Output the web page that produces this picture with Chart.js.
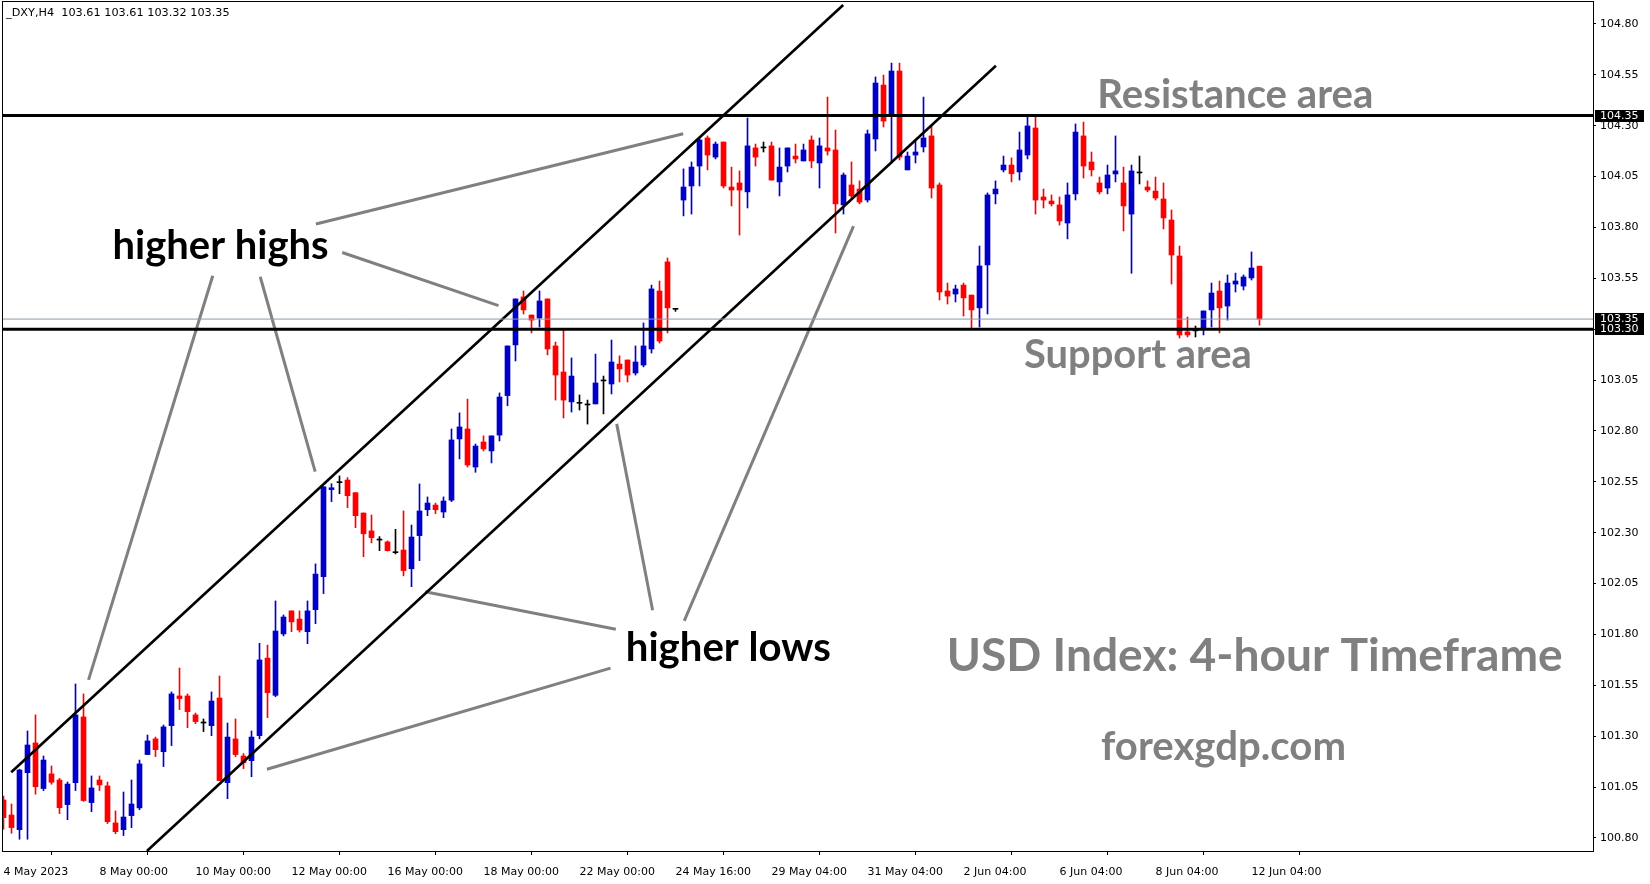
<!DOCTYPE html>
<html><head><meta charset="utf-8">
<script src="https://cdn.jsdelivr.net/npm/chart.js@4.4.0/dist/chart.umd.min.js"></script>
<style>html,body{margin:0;padding:0;background:#fff;overflow:hidden}canvas{display:block}</style>
</head><body>
<canvas id="c" width="1650" height="884"></canvas>
<script>
// ---- DATA (DXY H4 candles) ----
const opens = [100.987,100.913,100.841,101.121,101.267,101.043,101.115,101.085,100.964,101.072,
101.395,100.974,101.085,101.056,100.874,100.841,100.910,100.948,101.210,101.287,
101.224,101.352,101.498,101.498,101.405,101.365,101.352,101.488,101.072,101.287,
101.203,101.180,101.303,101.684,101.501,101.803,101.916,101.876,101.814,101.922,
102.084,102.512,102.546,102.559,102.497,102.397,102.309,102.264,102.255,102.202,
102.215,102.123,102.286,102.413,102.436,102.402,102.460,102.761,102.810,102.623,
102.746,102.702,102.780,102.974,103.223,103.459,103.370,103.355,103.449,103.218,
103.090,102.943,102.936,102.928,102.933,103.046,103.031,103.129,103.149,103.085,
103.124,103.203,103.488,103.631,103.398,103.935,104.004,104.102,104.240,104.146,
104.220,103.999,104.019,103.975,104.191,104.191,104.201,104.024,104.102,104.151,
104.127,104.230,104.117,104.191,104.181,103.911,104.009,103.989,103.935,104.235,
104.500,104.353,104.569,104.083,104.156,104.196,104.250,104.009,103.488,103.473,
103.517,103.468,103.405,103.616,103.965,104.083,104.107,104.073,104.156,104.289,
103.950,103.930,103.911,103.822,103.965,104.250,104.122,104.019,103.994,104.063,
104.019,103.866,104.068,103.999,103.979,103.940,103.837,103.660,103.287,103.292,
103.306,103.395,103.488,103.414,103.522,103.512,103.552,103.610];
const highs = [101.006,100.967,101.138,101.326,101.405,101.203,101.154,101.093,101.075,101.557,
101.508,101.105,101.105,101.075,100.933,101.026,101.085,101.183,101.306,101.296,
101.355,101.518,101.635,101.508,101.414,101.385,101.518,101.596,101.365,101.385,
101.215,101.326,101.757,101.748,101.965,101.896,101.916,101.916,101.965,102.147,
102.526,102.541,102.579,102.571,102.497,102.397,102.387,102.281,102.260,102.317,
102.407,102.338,102.540,102.476,102.446,102.476,102.810,102.889,102.957,102.736,
102.776,102.776,102.987,103.218,103.449,103.488,103.370,103.488,103.449,103.237,
103.296,103.159,102.977,102.952,103.178,103.070,103.247,103.169,103.149,103.218,
103.331,103.517,103.537,103.650,103.398,104.088,104.122,104.240,104.250,104.220,
104.220,104.097,104.078,104.338,104.210,104.220,104.220,104.191,104.191,104.210,
104.210,104.250,104.240,104.441,104.279,104.068,104.122,104.029,104.279,104.540,
104.549,104.608,104.608,104.171,104.230,104.441,104.299,104.019,103.527,103.517,
103.527,103.468,103.709,103.970,104.029,104.151,104.142,104.269,104.348,104.348,
103.989,103.960,103.950,104.019,104.309,104.318,104.171,104.048,104.107,104.250,
104.097,104.107,104.151,104.029,104.048,104.019,103.886,103.709,103.360,103.316,
103.390,103.527,103.537,103.567,103.576,103.567,103.680,103.610];
const lows = [100.843,100.823,100.794,100.794,101.015,101.033,101.064,100.920,100.890,101.033,
100.980,100.929,101.033,100.871,100.821,100.812,100.851,100.939,101.210,101.200,
101.151,101.254,101.431,101.342,101.362,101.323,101.303,101.082,100.993,101.200,
101.141,101.101,101.287,101.391,101.494,101.793,101.814,101.812,101.755,101.853,
102.001,102.453,102.492,102.423,102.325,102.182,102.250,102.212,102.210,102.196,
102.088,102.035,102.163,102.384,102.394,102.374,102.453,102.663,102.623,102.597,
102.702,102.643,102.751,102.924,103.144,103.375,103.282,103.311,103.174,102.952,
102.864,102.893,102.903,102.834,102.933,102.884,102.982,103.041,103.041,103.075,
103.115,103.183,103.232,103.282,103.388,103.857,103.866,104.004,104.083,104.137,
103.994,103.906,103.763,103.896,104.102,104.171,104.033,103.955,104.073,104.117,
104.127,104.093,103.994,104.156,103.773,103.866,103.945,103.916,103.925,104.176,
104.294,104.117,104.132,104.083,104.117,104.171,103.945,103.444,103.424,103.434,
103.365,103.306,103.311,103.375,103.916,104.073,104.024,104.033,104.137,103.866,
103.896,103.906,103.812,103.744,103.935,104.043,104.053,103.965,103.965,104.024,
103.783,103.575,104.014,103.975,103.935,103.793,103.522,103.257,103.262,103.262,
103.272,103.311,103.282,103.345,103.483,103.493,103.542,103.320];
const closes = [100.900,100.851,101.134,101.257,101.052,101.183,101.074,100.949,101.065,101.405,
100.984,101.046,101.061,100.880,100.831,100.903,100.967,101.164,101.277,101.234,
101.346,101.508,101.485,101.421,101.372,101.365,101.473,101.082,101.296,101.210,
101.170,101.296,101.675,101.514,101.817,101.886,101.862,101.822,101.916,102.097,
102.526,102.521,102.546,102.482,102.384,102.295,102.276,102.264,102.212,102.202,
102.114,102.279,102.407,102.446,102.413,102.456,102.756,102.820,102.633,102.726,
102.712,102.776,102.967,103.218,103.449,103.395,103.345,103.439,103.203,103.075,
102.952,103.070,102.936,102.928,103.036,103.046,103.139,103.105,103.075,103.139,
103.218,103.498,103.242,103.405,103.398,103.999,104.097,104.230,104.156,104.210,
104.004,103.984,103.984,104.201,104.146,104.191,104.033,104.097,104.191,104.137,
104.181,104.127,104.201,104.176,103.916,104.058,103.955,103.925,104.260,104.510,
104.323,104.569,104.146,104.151,104.171,104.240,103.994,103.483,103.463,103.498,
103.454,103.395,103.611,103.960,103.989,104.107,104.064,104.181,104.299,103.935,
103.935,103.916,103.832,103.960,104.269,104.102,104.083,103.975,104.058,104.078,
103.906,104.078,104.068,103.984,103.945,103.847,103.665,103.272,103.272,103.292,
103.390,103.478,103.405,103.527,103.537,103.557,103.601,103.350];

const xTickBars = [0,12,24,36,48,60,72,84,96,108,120,132,144,156];
const xTickLabels = ["4 May 2023","8 May 00:00","10 May 00:00","12 May 00:00","16 May 00:00","18 May 00:00",
  "22 May 00:00","24 May 16:00","29 May 04:00","31 May 04:00","2 Jun 04:00","6 Jun 04:00","8 Jun 04:00","12 Jun 04:00"];
const yTickValues = [100.80,101.05,101.30,101.55,101.80,102.05,102.30,102.55,102.80,103.05,103.30,103.55,103.80,104.05,104.30,104.55,104.80];

const resistanceLevel = 104.35;
const supportLevel = 103.30;
const lastPrice = 103.35;
const headerText = "_DXY,H4  103.61 103.61 103.32 103.35";

// trend channel (bar index, price)
const upperChannel = [[0.96,101.123],[104.96,104.893]];
const lowerChannel = [[17.93,100.736],[124.05,104.595]];
// grey pointer lines (bar index, price)
const pointerHighs = [
  [[39.05,103.817],[84.96,104.261]],
  [[42.34,103.677],[61.88,103.416]],
  [[26.16,103.563],[10.63,101.577]],
  [[32.09,103.558],[38.96,102.600]]
];
const pointerLows = [
  [[81.14,101.919],[76.65,102.835]],
  [[85.09,101.867],[106.25,103.807]],
  [[76.54,101.826],[52.71,102.010]],
  [[75.88,101.635],[32.93,101.138]]
];
const labels = [
  {text:"higher highs", bar:27.13, price:103.645, width:216, color:"#000000"},
  {text:"higher lows", bar:90.6, price:101.670, width:205, color:"#000000"},
  {text:"Resistance area", bar:153.98, price:104.385, width:276, color:"#808080"},
  {text:"Support area", bar:141.8, price:103.108, width:228, color:"#808080"},
  {text:"USD Index: 4-hour Timeframe", bar:156.4, price:101.619, width:616, color:"#808080"},
  {text:"forexgdp.com", bar:152.5, price:101.185, width:245, color:"#808080"}
];

// ---- BUILD ----
const X_MIN = -0.0625, X_MAX = 198.6875;
const Y_MIN = 100.7361, Y_MAX = 104.9081;
const idx = opens.map((_, i) => i);
const colorOf = i => closes[i] > opens[i] ? '#0000CC' : (closes[i] < opens[i] ? '#FF0000' : '#000000');
const candleColors = idx.map(colorOf);

function seg(points, color, width) {
  return {type:'line', data: points.map(p => ({x:p[0], y:p[1]})), borderColor:color, borderWidth:width,
    pointRadius:0, fill:false, tension:0, order:0, borderCapStyle:'butt'};
}
const datasets = [
  {type:'bar', data: idx.map(i => ({x:i, y:[lows[i], highs[i]]})), backgroundColor:candleColors,
   barThickness:1, grouped:false, order:3, minBarLength:1},
  {type:'bar', data: idx.map(i => ({x:i, y:[opens[i], closes[i]]})), backgroundColor:candleColors,
   barThickness:5, grouped:false, order:2, minBarLength:1},
  seg([[X_MIN,lastPrice],[X_MAX,lastPrice]], '#8a9aa8', 1),
  seg([[X_MIN,resistanceLevel],[X_MAX,resistanceLevel]], '#000000', 3),
  seg([[X_MIN,supportLevel],[X_MAX,supportLevel]], '#000000', 3),
  seg(upperChannel, '#000000', 2.6),
  seg(lowerChannel, '#000000', 2.6)
];
pointerHighs.concat(pointerLows).forEach(p => datasets.push(seg(p, '#808080', 3)));

const AXIS_FONT = {family:'DejaVu Sans', size:11};

const overlay = {
  id:'overlay',
  afterDraw(chart) {
    const ctx = chart.ctx, a = chart.chartArea, xs = chart.scales.x, ys = chart.scales.y;
    ctx.save();
    ctx.strokeStyle = '#000'; ctx.lineWidth = 1;
    ctx.strokeRect(a.left - 0.5, a.top - 0.5, a.right - a.left + 1, a.bottom - a.top + 1);
    // header
    ctx.fillStyle = '#000'; ctx.font = '11px "DejaVu Sans"';
    const hw = ctx.measureText(headerText).width;
    ctx.font = (11 * 224 / hw).toFixed(2) + 'px "DejaVu Sans"';
    ctx.textBaseline = 'middle'; ctx.textAlign = 'left';
    ctx.fillText(headerText, 6, 13);
    // annotation texts
    labels.forEach(l => {
      ctx.font = 'bold 40px Lato';
      const w = ctx.measureText(l.text).width;
      const size = 40 * l.width / w;
      ctx.font = 'bold ' + size.toFixed(2) + 'px Lato';
      ctx.fillStyle = l.color; ctx.textAlign = 'center'; ctx.textBaseline = 'alphabetic';
      ctx.fillText(l.text, xs.getPixelForValue(l.bar), ys.getPixelForValue(l.price));
    });
    // price boxes on right axis
    [lastPrice, supportLevel, resistanceLevel].forEach(v => {
      const py = Math.round(ys.getPixelForValue(v));
      ctx.fillStyle = '#000';
      ctx.fillRect(a.right + 2, py - 6, 49, 12);
      ctx.fillStyle = '#fff'; ctx.font = '11px "DejaVu Sans"'; ctx.textAlign = 'left'; ctx.textBaseline = 'middle';
      ctx.fillText(v.toFixed(2), a.right + 7, py);
    });
    ctx.restore();
  }
};

function draw() {
  new Chart(document.getElementById('c'), {
    data: {datasets},
    options: {
      responsive:false, animation:false, devicePixelRatio:1,
      layout:{padding:{left:3, top:2, right:0, bottom:0}},
      plugins:{legend:{display:false}, tooltip:{enabled:false}},
      events:[],
      scales:{
        x:{type:'linear', min:X_MIN, max:X_MAX, offset:false,
           border:{display:false},
           grid:{drawOnChartArea:false, drawTicks:true, tickLength:4, color:'#000'},
           afterBuildTicks:s => { s.ticks = xTickBars.map(v => ({value:v})); },
           afterFit:s => { s.height = 33; s.paddingLeft = 0; s.paddingRight = 0; },
           ticks:{autoSkip:false, maxRotation:0, minRotation:0, align:'start', padding:11, color:'#000', font:AXIS_FONT,
             callback:v => { const k = xTickBars.indexOf(v); return k >= 0 ? xTickLabels[k] : ''; }}},
        y:{type:'linear', position:'right', min:Y_MIN, max:Y_MAX,
           border:{display:false},
           grid:{drawOnChartArea:false, drawTicks:true, tickLength:3, color:'#000'},
           afterBuildTicks:s => { s.ticks = yTickValues.map(v => ({value:v})); },
           afterFit:s => { s.width = 57; s.paddingTop = 0; s.paddingBottom = 0; },
           ticks:{autoSkip:false, padding:4, color:'#000', font:AXIS_FONT, callback:v => Number(v).toFixed(2)}}
      }
    },
    plugins:[overlay]
  });
}
const fl = document.fonts && document.fonts.load ? Promise.all([document.fonts.load('bold 40px Lato'), document.fonts.load('11px "DejaVu Sans"')]) : Promise.resolve();
fl.then(draw, draw);
</script>
</body></html>
